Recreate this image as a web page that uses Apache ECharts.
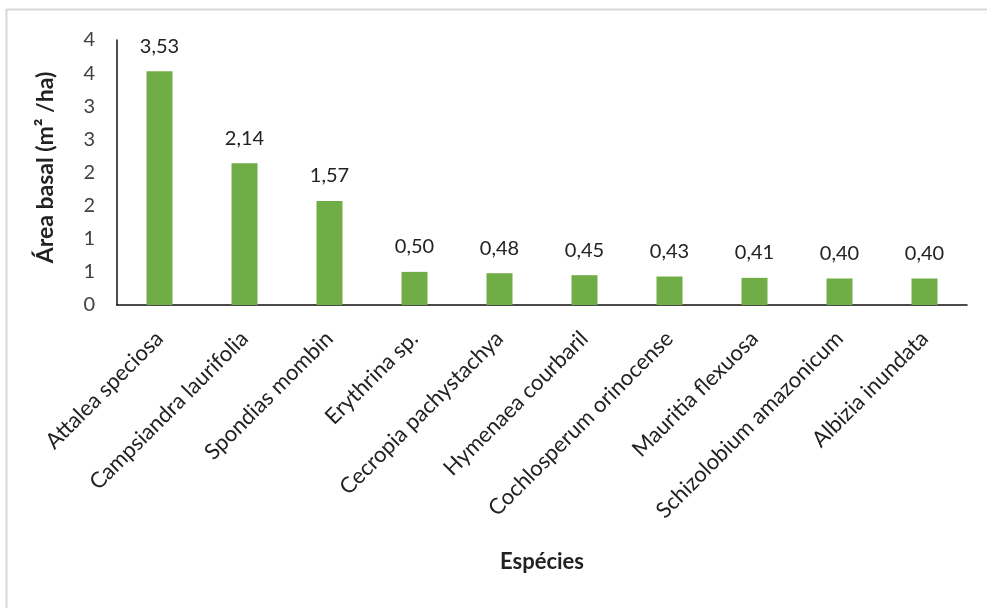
<!DOCTYPE html>
<html lang="pt">
<head>
    <meta charset="UTF-8">
    <title>Área basal por espécie</title>
    <script src="https://cdn.jsdelivr.net/npm/echarts@6/dist/echarts.min.js"></script>
    <style>
        html, body { margin: 0; padding: 0; background: #fff; }
        #container { width: 987px; height: 608px; }
    </style>
</head>
<body>
<div id="container"></div>
<script type="text/javascript">
    // dados
    var especies = ['Attalea speciosa', 'Campsiandra laurifolia', 'Spondias mombin', 'Erythrina sp.',
        'Cecropia pachystachya', 'Hymenaea courbaril', 'Cochlosperum orinocense', 'Mauritia flexuosa',
        'Schizolobium amazonicum', 'Albizia inundata'];
    var areaBasal = [3.53, 2.14, 1.57, 0.50, 0.48, 0.45, 0.43, 0.41, 0.40, 0.40];

    var fonte = 'Lato, "Open Sans", sans-serif';
    var dom = document.getElementById("container");
    var myChart = echarts.init(dom);
    var option = {
        animation: false,
        backgroundColor: '#fff',
        textStyle: { fontFamily: fonte },
        graphic: [
            { type: 'line', shape: { x1: 6, y1: 9.5, x2: 987, y2: 9.5 }, style: { stroke: '#d9d9d9', lineWidth: 2 } },
            { type: 'line', shape: { x1: 6.5, y1: 9, x2: 6.5, y2: 608 }, style: { stroke: '#d9d9d9', lineWidth: 2 } }
        ],
        grid: { left: 117, right: 20, top: 40, bottom: 303 },
        xAxis: {
            type: 'category',
            data: especies,
            name: 'Espécies',
            nameLocation: 'middle',
            nameGap: 246,
            nameTextStyle: { fontSize: 22, fontWeight: 'bold', color: '#222', fontFamily: fonte },
            axisLine: { lineStyle: { color: '#111', width: 1.5 } },
            axisTick: { show: false },
            axisLabel: {
                rotate: 45,
                margin: 30,
                interval: 0,
                fontSize: 22,
                color: '#222',
                fontFamily: fonte
            }
        },
        yAxis: {
            type: 'value',
            min: 0,
            max: 4,
            interval: 0.5,
            name: 'Área basal (m² /ha)',
            nameLocation: 'middle',
            nameGap: 60,
            nameTextStyle: { fontSize: 23, fontWeight: 'bold', color: '#222', fontFamily: fonte, padding: [0, 0, 0, 10] },
            axisLine: { show: true, lineStyle: { color: '#111', width: 1.5 } },
            axisTick: { show: false },
            splitLine: { show: false },
            axisLabel: {
                margin: 22,
                fontSize: 20,
                color: '#404040',
                fontFamily: fonte,
                formatter: function (v) { return String(Math.round(v)); }
            }
        },
        series: [{
            type: 'bar',
            data: areaBasal,
            barWidth: 26,
            itemStyle: { color: '#70AD47' },
            label: {
                show: true,
                position: 'top',
                distance: 15,
                fontSize: 20,
                color: '#222',
                fontFamily: fonte,
                formatter: function (p) { return p.value.toFixed(2).replace('.', ','); }
            }
        }]
    };
    myChart.setOption(option, true);
</script>
</body>
</html>
